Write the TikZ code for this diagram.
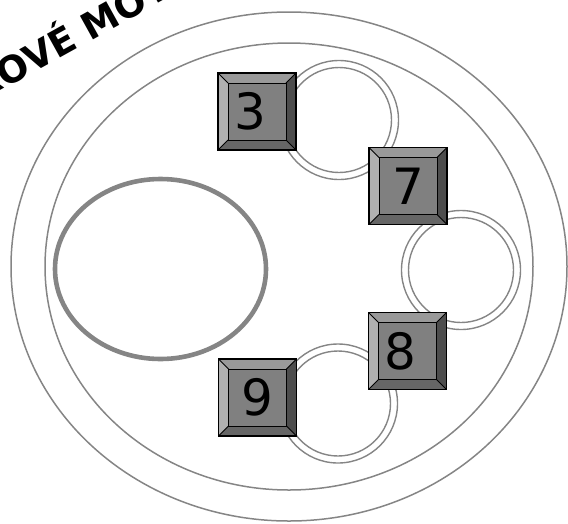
\documentclass[tikz,border=0pt]{standalone}
\usepackage{fontspec}
\newfontfamily\keyfont{DejaVu Sans}
\newfontfamily\titlefont{DejaVu Sans}
\definecolor{keyface}{HTML}{808080}
\definecolor{keytop}{HTML}{999999}
\definecolor{keyleft}{HTML}{B0B0B0}
\definecolor{keyright}{HTML}{4D4D4D}
\definecolor{keybottom}{HTML}{666666}
\definecolor{linegray}{HTML}{858585}
\begin{document}
\begin{tikzpicture}[x=1pt,y=-1pt,
  thinline/.style={draw=linegray, line width=1.5pt},
  ringline/.style={draw=linegray, line width=1.4pt},
  thickline/.style={draw=linegray, line width=4.6pt},
  titletext/.style={font=\titlefont\bfseries\fontsize{37}{37}\selectfont, inner sep=0pt,
    text height=27pt, text depth=0pt, anchor=center, text=black},
  keybox/.style={rectangle, minimum width=78pt, minimum height=77pt, inner sep=0pt,
    fill=keyface, draw=black, line width=1.6pt,
    font=\keyfont\fontsize{50}{50}\selectfont, text=black,
    path picture={
      \coordinate (@nw) at (path picture bounding box.north west);
      \coordinate (@ne) at (path picture bounding box.north east);
      \coordinate (@sw) at (path picture bounding box.south west);
      \coordinate (@se) at (path picture bounding box.south east);
      \fill[keytop] (@nw) -- (@ne) -- ([shift={(-10pt,-10pt)}]@ne) -- ([shift={(10pt,-10pt)}]@nw) -- cycle;
      \fill[keyleft] (@nw) -- ([shift={(10pt,-10pt)}]@nw) -- ([shift={(10pt,10pt)}]@sw) -- (@sw) -- cycle;
      \fill[keyright] (@ne) -- (@se) -- ([shift={(-10pt,10pt)}]@se) -- ([shift={(-10pt,-10pt)}]@ne) -- cycle;
      \fill[keybottom] (@sw) -- ([shift={(10pt,10pt)}]@sw) -- ([shift={(-10pt,10pt)}]@se) -- (@se) -- cycle;
      \draw[black, line width=0.9pt] ([shift={(10pt,-10pt)}]@nw) rectangle ([shift={(-10pt,10pt)}]@se);
      \draw[black, line width=0.9pt] (@nw) -- ([shift={(10pt,-10pt)}]@nw)
        (@ne) -- ([shift={(-10pt,-10pt)}]@ne)
        (@sw) -- ([shift={(10pt,10pt)}]@sw)
        (@se) -- ([shift={(-10pt,10pt)}]@se);
    }}]
\useasboundingbox (0,0) rectangle (568,523);
\clip (0,0) rectangle (568,523);

% housing
\draw[thinline] (289,266.5) ellipse [x radius=278, y radius=254.5];
\draw[thinline] (289,266.5) ellipse [x radius=244, y radius=223.5];
% rotor
\draw[thickline] (160.5,269) ellipse [x radius=105.5, y radius=90];
% coils (double rings)
\foreach \cx/\cy in {339/120, 461/270, 338/403.5}{
  \draw[ringline] (\cx,\cy) circle [radius=59.5];
  \draw[ringline] (\cx,\cy) circle [radius=52.5];
}
% keys
\node[keybox] (k3) at (257,111.5) {\kern-14pt3};
\node[keybox] (k7) at (408,186) {7};
\node[keybox] (k8) at (407.5,351) {\kern-14pt8};
\node[keybox] (k9) at (257.5,397.5) {9};

% title (cut off by the picture's edge)
\node[titletext, rotate=29] (title) at (70,37) {ROVÉ MOT};
\end{tikzpicture}
\end{document}
